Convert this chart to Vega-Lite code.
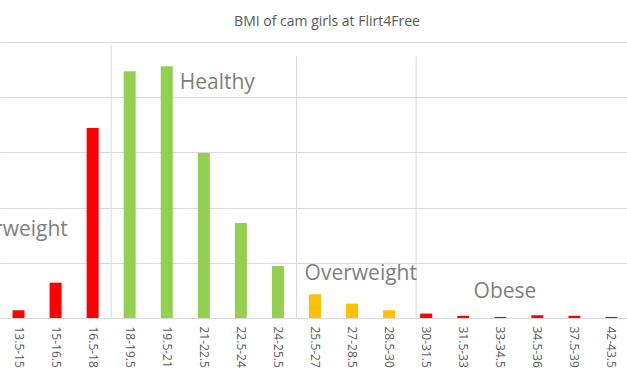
{
  "$schema": "https://vega.github.io/schema/vega-lite/v6.json",
  "autosize": "none",
  "width": 630,
  "height": 276,
  "padding": {"left": 0, "top": 42, "right": 0, "bottom": 58},
  "background": "white",
  "title": {"text": "BMI of cam girls at Flirt4Free", "font": "Open Sans", "fontSize": 14, "fontWeight": "normal", "color": "#595959", "dx": 12, "offset": 13},
  "config": {"view": {"stroke": null}, "font": "Open Sans"},
  "datasets": {
    "bmi": [
      {"range": "13.5-15", "group": "Underweight", "count": 1.4},
      {"range": "15-16.5", "group": "Underweight", "count": 6.4},
      {"range": "16.5-18", "group": "Underweight", "count": 34.4},
      {"range": "18-19.5", "group": "Healthy", "count": 44.7},
      {"range": "19.5-21", "group": "Healthy", "count": 45.6},
      {"range": "21-22.5", "group": "Healthy", "count": 29.9},
      {"range": "22.5-24", "group": "Healthy", "count": 17.2},
      {"range": "24-25.5", "group": "Healthy", "count": 9.4},
      {"range": "25.5-27", "group": "Overweight", "count": 4.3},
      {"range": "27-28.5", "group": "Overweight", "count": 2.6},
      {"range": "28.5-30", "group": "Overweight", "count": 1.4},
      {"range": "30-31.5", "group": "Obese", "count": 0.8},
      {"range": "31.5-33", "group": "Obese", "count": 0.4},
      {"range": "33-34.5", "group": "Obese", "count": 0.2},
      {"range": "34.5-36", "group": "Obese", "count": 0.5},
      {"range": "37.5-39", "group": "Obese", "count": 0.4},
      {"range": "42-43.5", "group": "Obese", "count": 0.2}
    ]
  },
  "layer": [
    {
      "data": {"name": "bmi"},
      "mark": {"type": "bar", "size": 12},
      "encoding": {
        "x": {"field": "range", "type": "nominal", "sort": null, "scale": {"paddingInner": 0, "paddingOuter": 0},
          "axis": {"title": null, "labelAngle": 90, "labelFont": "Open Sans", "labelFontSize": 12, "labelColor": "#595959", "ticks": false, "labelPadding": 8, "domainColor": "#d9d9d9", "domainWidth": 1}},
        "y": {"field": "count", "type": "quantitative", "scale": {"domain": [0, 50], "nice": false},
          "axis": {"title": null, "labels": false, "ticks": false, "domain": false, "values": [10, 20, 30, 40, 50], "gridColor": "#d9d9d9", "gridWidth": 1}},
        "color": {"field": "group", "type": "nominal", "legend": null,
          "scale": {"domain": ["Underweight", "Healthy", "Overweight", "Obese"], "range": ["#ff0000", "#92d050", "#ffc000", "#ff0000"]}}
      }
    },
    {
      "data": {"values": [{"range": "18-19.5", "top": 49.5}, {"range": "25.5-27", "top": 47.4}]},
      "mark": {"type": "rule", "color": "#d9d9d9", "strokeWidth": 1},
      "encoding": {
        "x": {"field": "range", "type": "nominal", "bandPosition": 0},
        "y": {"field": "top", "type": "quantitative"},
        "y2": {"datum": 0}
      }
    },
    {
      "data": {"values": [{"range": "30-31.5", "top": 47.4}]},
      "mark": {"type": "rule", "color": "#d9d9d9", "strokeWidth": 1},
      "encoding": {
        "x": {"field": "range", "type": "nominal", "bandPosition": 0.23},
        "y": {"field": "top", "type": "quantitative"},
        "y2": {"datum": -0.3}
      }
    },
    {
      "data": {"values": [{"label": "Healthy", "range": "19.5-21", "level": 42.5}]},
      "mark": {"type": "text", "align": "left", "baseline": "middle", "font": "Open Sans", "fontSize": 21, "color": "#7f7f7f"},
      "encoding": {
        "x": {"field": "range", "type": "nominal", "bandPosition": 0.85},
        "y": {"field": "level", "type": "quantitative"},
        "text": {"field": "label"}
      }
    },
    {
      "data": {"values": [{"label": "Underweight", "range": "15-16.5", "level": 16.0}]},
      "mark": {"type": "text", "align": "right", "baseline": "middle", "font": "Open Sans", "fontSize": 21, "color": "#7f7f7f"},
      "encoding": {
        "x": {"field": "range", "type": "nominal", "bandPosition": 0.83},
        "y": {"field": "level", "type": "quantitative"},
        "text": {"field": "label"}
      }
    },
    {
      "data": {"values": [{"label": "Overweight", "range": "25.5-27", "level": 8.0}]},
      "mark": {"type": "text", "align": "left", "baseline": "middle", "font": "Open Sans", "fontSize": 21, "color": "#7f7f7f"},
      "encoding": {
        "x": {"field": "range", "type": "nominal", "bandPosition": 0.22},
        "y": {"field": "level", "type": "quantitative"},
        "text": {"field": "label"}
      }
    },
    {
      "data": {"values": [{"label": "Obese", "range": "31.5-33", "level": 4.8}]},
      "mark": {"type": "text", "align": "left", "baseline": "middle", "font": "Open Sans", "fontSize": 21, "color": "#7f7f7f"},
      "encoding": {
        "x": {"field": "range", "type": "nominal", "bandPosition": 0.78},
        "y": {"field": "level", "type": "quantitative"},
        "text": {"field": "label"}
      }
    }
  ]
}
